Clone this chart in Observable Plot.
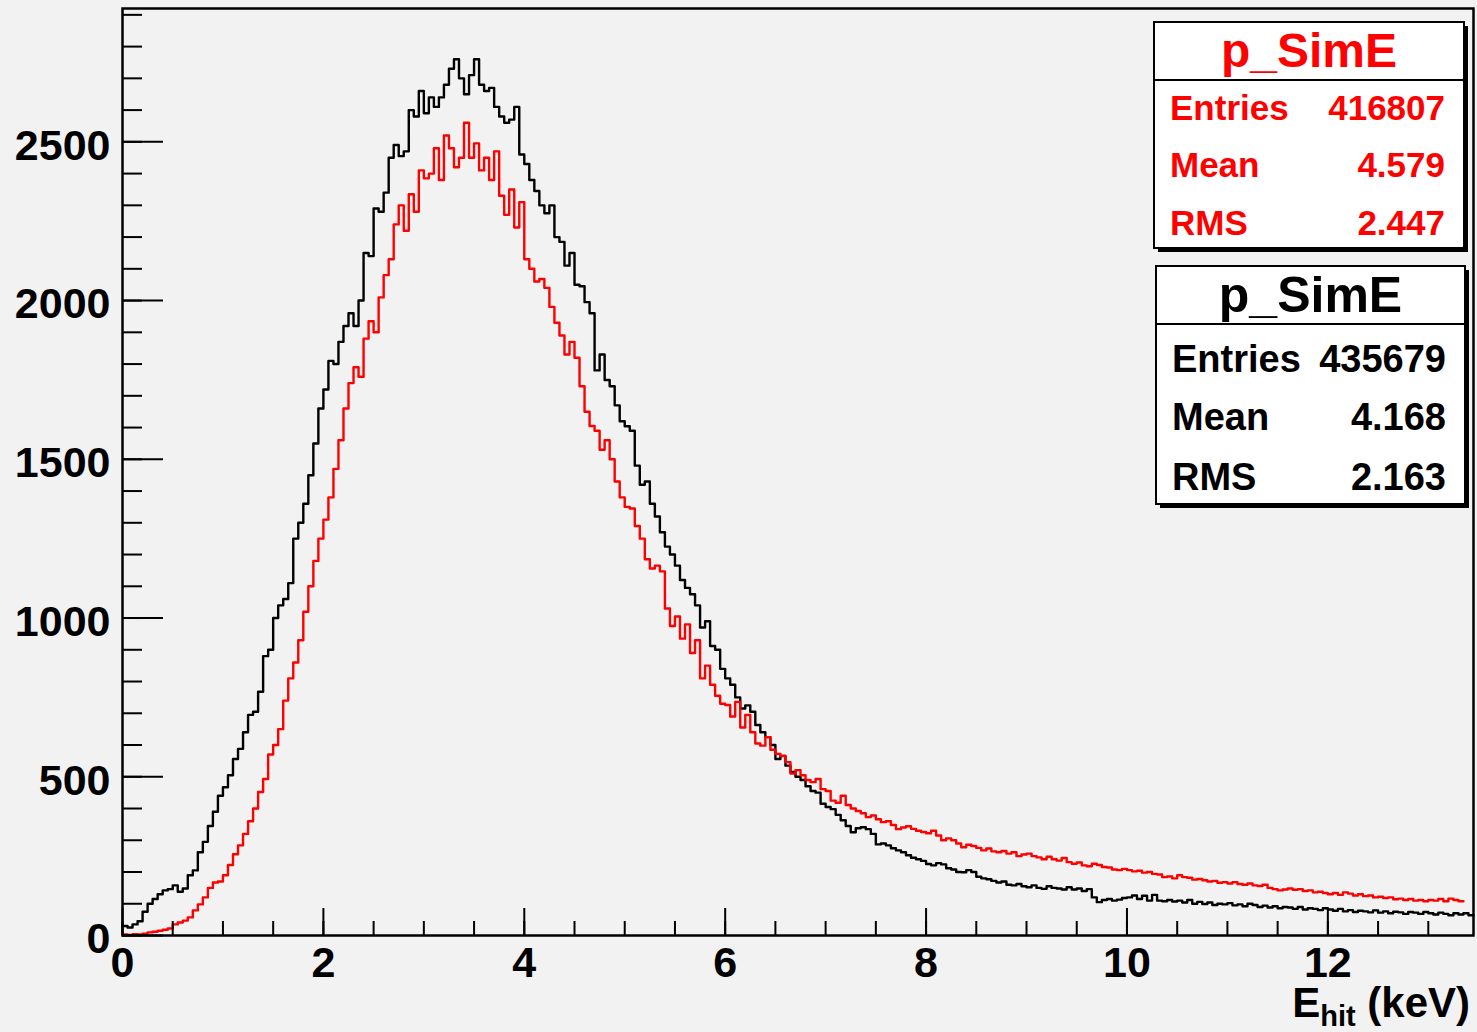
<!DOCTYPE html>
<html><head><meta charset="utf-8">
<script src="https://cdn.jsdelivr.net/npm/d3@7"></script>
<script src="https://cdn.jsdelivr.net/npm/@observablehq/plot@0.6"></script>
<style>
html,body{margin:0;padding:0;background:#f2f2f2;}
#chart{width:1477px;height:1032px;}
</style></head><body><div id="chart"></div>
<script>
// ---- data ----
const binWidth = 0.05; // keV per bin
const blackCounts = [
  30,25,35,45,75,100,115,130,142,146,158,138,148,190,205,262,295,345,390,440,
  467,505,556,588,640,695,705,768,880,900,1000,1040,1060,1110,1250,1300,1360,1450,1550,1660,
  1720,1810,1800,1870,1920,1960,1920,2000,2150,2140,2290,2280,2340,2450,2490,2455,2470,2600,2580,2660,
  2590,2640,2610,2640,2680,2730,2760,2700,2650,2710,2760,2680,2660,2670,2610,2580,2560,2570,2610,2460,
  2430,2380,2345,2300,2275,2300,2200,2185,2110,2150,2050,2045,1995,1960,1780,1830,1750,1730,1670,1620,
  1604,1590,1480,1420,1430,1360,1320,1270,1225,1200,1165,1120,1095,1075,1040,970,990,912,900,840,
  810,790,750,715,725,705,663,640,625,600,556,565,535,515,500,490,470,455,450,415,
  405,398,380,363,345,325,338,341,335,320,287,290,284,275,268,262,253,245,240,235,
  225,221,228,224,212,208,200,199,206,200,185,180,177,172,167,170,160,158,162,155,
  152,158,150,147,155,150,148,145,152,145,148,140,146,120,105,112,115,110,113,118,
  120,126,115,125,110,128,110,108,112,107,110,104,112,100,106,99,104,96,100,98,
  102,95,98,92,100,96,90,94,88,92,86,90,88,84,90,82,86,84,80,86,
  82,78,84,76,80,74,78,76,73,79,72,76,70,75,73,68,74,72,68,74,
  70,66,72,68,64,70,66,70,64
];
const redCounts = [
  3,2,4,3,6,10,12,15,18,22,35,41,47,57,79,98,120,150,167,170,
  190,222,256,284,320,360,400,452,493,570,600,650,740,810,860,930,1020,1100,1180,1250,
  1310,1380,1470,1560,1660,1740,1790,1760,1880,1935,1900,2010,2080,2130,2240,2300,2220,2335,2280,2410,
  2385,2400,2480,2380,2520,2480,2420,2450,2560,2450,2495,2410,2450,2380,2470,2330,2270,2350,2230,2310,
  2130,2100,2060,2068,2040,1980,1930,1890,1830,1870,1820,1730,1650,1605,1590,1530,1560,1500,1430,1380,
  1350,1345,1290,1250,1185,1156,1165,1147,1030,975,1005,935,980,890,930,810,850,790,755,730,
  726,690,736,655,695,640,605,598,625,585,572,566,546,510,521,505,490,483,493,461,
  455,425,418,440,411,400,392,385,373,378,366,357,360,348,335,340,344,336,330,326,
  322,330,315,300,306,300,290,278,286,282,276,268,274,265,262,266,258,262,250,255,
  258,250,246,240,248,240,236,244,231,226,230,221,218,226,222,216,214,208,206,210,
  206,202,204,198,200,194,192,184,186,180,190,184,182,176,178,174,170,172,166,168,
  164,168,162,160,164,158,156,160,150,146,142,145,148,144,146,140,142,136,138,134,
  130,134,128,136,132,126,130,124,126,120,122,118,120,114,116,112,115,110,112,108,
  112,110,115,108,116,112,108
];
const xDomain = [0, 13.45];
const yDomain = [0, 2920];
const yMajorTicks = [0, 500, 1000, 1500, 2000, 2500];
const yMinorTicks = d3.range(0, 2901, 100);
const xMajorTicks = [0, 2, 4, 6, 8, 10, 12];
const xMinorTicks = d3.range(0, 13.45, 0.5);
const statLabels = ["Entries", "Mean", "RMS"];
const redStats = ["416807", "4.579", "2.447"];
const blackStats = ["435679", "4.168", "2.163"];
const histName = "p_SimE";

// ---- layout ----
const W = 1477, H = 1032;
const mL = 122, mR = 4, mT = 8, mB = 97;
const plotW = W - mL - mR, plotH = H - mT - mB;
const font = "'Liberation Sans', Arial, Helvetica, sans-serif";

function stepPoints(counts) {
  const pts = [];
  counts.forEach((c, i) => {
    pts.push({x: i * binWidth, y: c});
    pts.push({x: (i + 1) * binWidth, y: c});
  });
  return pts;
}

const chart = Plot.plot({
  width: W, height: H,
  marginLeft: mL, marginRight: mR, marginTop: mT, marginBottom: mB,
  x: {domain: xDomain, axis: null},
  y: {domain: yDomain, axis: null},
  style: {background: "#f2f2f2", fontFamily: font, overflow: "visible"},
  marks: [
    Plot.line(stepPoints(blackCounts), {x: "x", y: "y", stroke: "#000000", strokeWidth: 2.4}),
    Plot.line(stepPoints(redCounts), {x: "x", y: "y", stroke: "#ff0000", strokeWidth: 2.4}),
    Plot.tickY(yMajorTicks, {y: d => d, insetRight: plotW - 41, stroke: "#000", strokeWidth: 2}),
    Plot.tickY(yMinorTicks, {y: d => d, insetRight: plotW - 20, stroke: "#000", strokeWidth: 2}),
    Plot.tickX(xMajorTicks, {x: d => d, insetTop: plotH - 27, stroke: "#000", strokeWidth: 2}),
    Plot.tickX(xMinorTicks, {x: d => d, insetTop: plotH - 14, stroke: "#000", strokeWidth: 2}),
    Plot.text(yMajorTicks, {x: xDomain[0], y: d => d, text: d => String(d), textAnchor: "end",
      dx: -12, dy: 4, fontSize: 43, fontWeight: "bold", fill: "#000"}),
    Plot.text(xMajorTicks, {x: d => d, y: yDomain[0], text: d => String(d),
      dy: 28, fontSize: 43, fontWeight: "bold", fill: "#000"}),
    Plot.frame({stroke: "#000", strokeWidth: 2.5})
  ]
});
document.getElementById("chart").appendChild(chart);

// ---- stats boxes & axis title ----
const svg = d3.select(chart);
function statsBox(o) {
  const g = svg.append("g").attr("font-family", font).attr("font-weight", "bold")
    .attr("text-anchor", "start");
  g.append("rect").attr("x", o.x + 4).attr("y", o.y + 4).attr("width", o.w).attr("height", o.h).attr("fill", "#000");
  g.append("rect").attr("x", o.x).attr("y", o.y).attr("width", o.w).attr("height", o.h)
    .attr("fill", "#ffffff").attr("stroke", "#000").attr("stroke-width", 2);
  g.append("line").attr("x1", o.x).attr("x2", o.x + o.w).attr("y1", o.y + 58).attr("y2", o.y + 58)
    .attr("stroke", "#000").attr("stroke-width", 2);
  g.append("text").attr("x", o.x + o.w / 2).attr("y", o.y + o.titleBase).attr("text-anchor", "middle")
    .attr("font-size", o.titleSize).attr("fill", o.color).text(histName);
  statLabels.forEach((lab, i) => {
    g.append("text").attr("x", o.x + 16).attr("y", o.y + o.rows[i]).attr("font-size", o.rowSize)
      .attr("text-anchor", "start").attr("fill", o.color).text(lab);
    g.append("text").attr("x", o.x + o.w - 19).attr("y", o.y + o.rows[i]).attr("font-size", o.rowSize)
      .attr("text-anchor", "end").attr("fill", o.color).text(o.values[i]);
  });
}
statsBox({x: 1154, y: 22, w: 310, h: 226, color: "#ff0000", titleSize: 48, titleBase: 45,
  rowSize: 35, rows: [98, 155, 213], values: redStats});
statsBox({x: 1156, y: 266, w: 309, h: 238, color: "#000000", titleSize: 50, titleBase: 46,
  rowSize: 38, rows: [106, 164, 224], values: blackStats});

const t = svg.append("text").attr("x", 1470).attr("y", 1017).attr("text-anchor", "end")
  .attr("font-family", font).attr("font-weight", "bold").attr("font-size", 42).attr("fill", "#000");
t.append("tspan").text("E");
t.append("tspan").attr("font-size", 29).attr("dy", 9).text("hit");
t.append("tspan").attr("dy", -9).text(" (keV)");
</script>
</body></html>
